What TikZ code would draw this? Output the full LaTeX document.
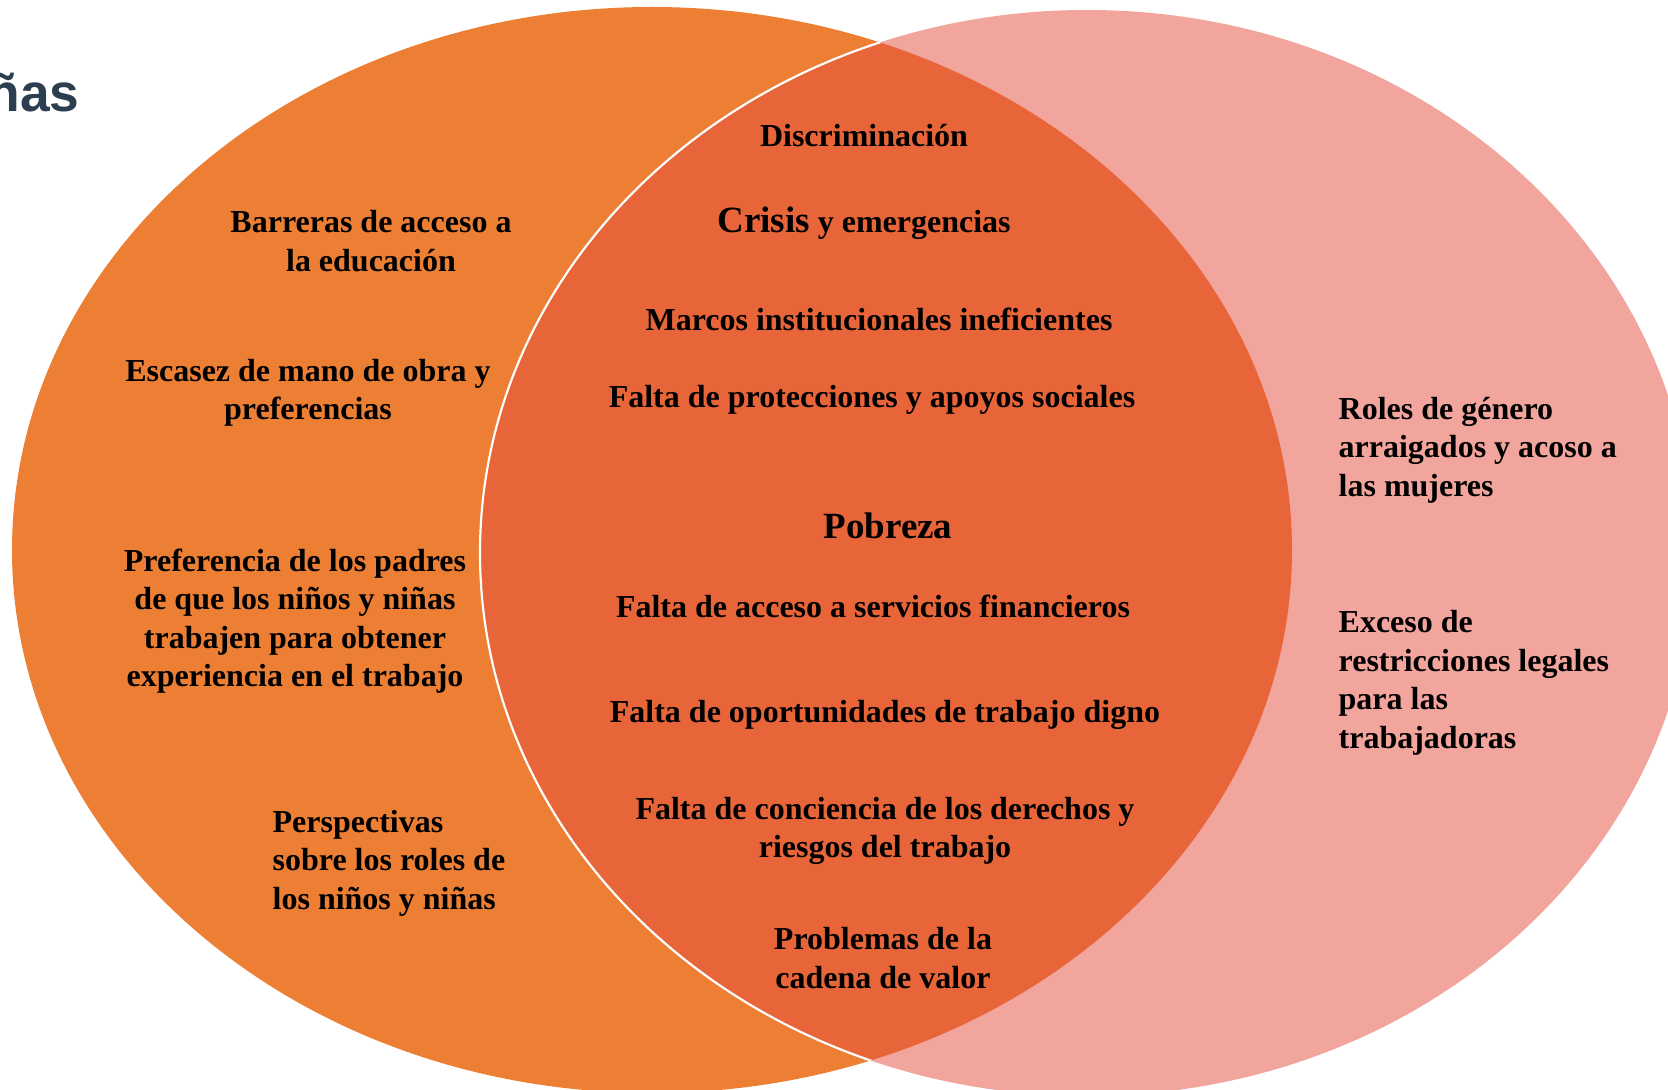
\documentclass[tikz,border=0pt]{standalone}
\usepackage{fontspec}
\setmainfont{Liberation Serif}
\newfontfamily\titlefont{Liberation Sans}
\usetikzlibrary{positioning}

\definecolor{leftorange}{HTML}{ED7F35}
\definecolor{rightpink}{HTML}{F2A59C}
\definecolor{overlapred}{HTML}{E86539}
\definecolor{titleslate}{HTML}{2D3E50}

\tikzset{
  factor/.style={font=\bfseries\fontsize{9.6}{11.55}\selectfont, text=black, align=center, inner sep=0pt},
  factorleft/.style={factor, align=left, anchor=west},
}
\newcommand{\bigword}[1]{{\fontsize{11.1}{13}\selectfont #1}}

\begin{document}
\begin{tikzpicture}[x=0.3pt,y=-0.3pt]
\useasboundingbox (0,0) rectangle (1668,1090);
% Drawing the two ellipses
\fill[leftorange] (652,550) ellipse[x radius=640, y radius=543];
\fill[rightpink] (1087,553) ellipse[x radius=607, y radius=543];
% Overlap, with the white edge of the right ellipse
\begin{scope}
\clip (652,550) ellipse[x radius=640, y radius=543];
\fill[overlapred] (1087,553) ellipse[x radius=607, y radius=543];
\draw[white, line width=0.65pt] (1087,553) ellipse[x radius=607, y radius=543];
\end{scope}
% Title, cut at the left edge
\node[font=\titlefont\bfseries\fontsize{16}{19}\selectfont, text=titleslate, anchor=base east, inner sep=0pt] (title) at (80,112) {ñas};
% Left: child labour only
\node[factor] (barreras) at (371,241) {Barreras de acceso a\\la educación};
\node[factor] (escasez) at (308,393) {Escasez de mano de obra y\\preferencias};
\node[factor] (padres) at (295,621) {Preferencia de los padres\\de que los niños y niñas\\trabajen para obtener\\experiencia en el trabajo};
\node[factorleft] (perspectivas) at (272,863) {Perspectivas\\sobre los roles de\\los niños y niñas};
% Middle: shared causes
\node[factor] (discrim) at (864,136) {Discriminación};
\node[factor] (crisis) at (864,223) {\bigword{Crisis} y emergencias};
\node[factor] (marcos) at (879,319) {Marcos institucionales ineficientes};
\node[factor] (protec) at (872,400) {Falta de protecciones y apoyos sociales};
\node[factor] (pobreza) at (888,526) {\bigword{Pobreza}};
\node[factor] (financ) at (873,606) {Falta de acceso a servicios financieros};
\node[factor] (digno) at (885,715) {Falta de oportunidades de trabajo digno};
\node[factor] (conciencia) at (885,831) {Falta de conciencia de los derechos y\\riesgos del trabajo};
\node[factor] (cadena) at (883,958) {Problemas de la\\cadena de valor};
% Right: women only
\node[factorleft] (roles) at (1338,450) {Roles de género\\arraigados y acoso a\\las mujeres};
\node[factorleft] (exceso) at (1338,683) {Exceso de\\restricciones legales\\para las\\trabajadoras};
\end{tikzpicture}
\end{document}
